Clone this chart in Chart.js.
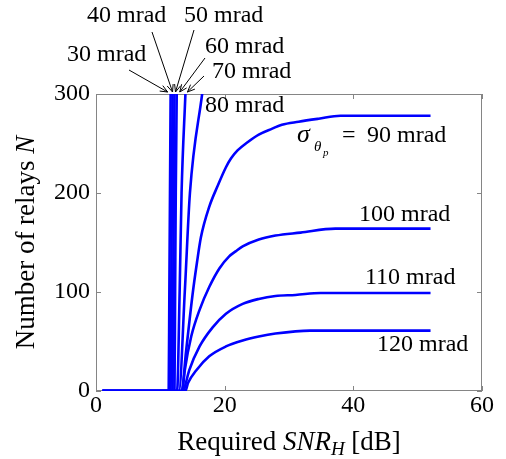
<!DOCTYPE html>
<html>
<head>
<meta charset="utf-8">
<script src="https://cdn.jsdelivr.net/npm/chart.js@4.4.1/dist/chart.umd.min.js"></script>
<style>
  body { margin: 0; background: #ffffff; }
  canvas { display: block; }
</style>
</head>
<body>
<canvas id="myChart" width="506" height="459"></canvas>
<script>
// Required SNR_H [dB] (x) and number of relays N (y), one pair per sigma_theta_p
var snr30 = [1, 11.3, 11.4, 11.5, 11.6, 11.7];
var n30   = [0, 0, 100, 200, 300, 400];
var snr40 = [1, 11.6, 11.7, 11.8, 11.9, 12.0];
var n40   = [0, 0, 100, 200, 300, 400];
var snr50 = [1, 11.9, 12.0, 12.1, 12.2, 12.3];
var n50   = [0, 0, 100, 200, 300, 400];
var snr60 = [1, 12.2, 12.3, 12.4, 12.55, 12.7];
var n60   = [0, 0, 100, 200, 300, 400];
var snr70 = [1, 12.6, 13.0, 13.3, 13.9, 14.5];
var n70   = [0, 0, 100, 200, 300, 400];
var snr80 = [1, 12.9, 13.8, 14.6, 16.5, 18.5];
var n80   = [0, 0, 100, 200, 300, 400];
var snr90 = [1, 13.3, 14.0, 15.0, 15.7, 16.3, 17.6, 18.9, 20.2, 21.0, 22.0, 23.5, 25.3, 27.4, 28.9, 31.5, 34.6, 38, 52];
var n90   = [0, 0, 40, 97, 130, 155, 186, 207, 226, 235, 243, 251, 259, 265, 269, 272, 275, 278, 278];
var snr100 = [1, 13.4, 13.8, 14.8, 16.1, 17.6, 19.2, 20.7, 21.7, 22.8, 25.3, 27.9, 31.8, 37.2, 52];
var n100   = [0, 0, 21, 55, 82, 105, 124, 136, 141, 146, 153, 157, 160, 164, 164];
var snr110 = [1, 13.6, 13.8, 14.5, 16.1, 18.1, 20.2, 22.8, 25.3, 27.9, 31, 34.9, 52];
var n110   = [0, 0, 4, 21, 45, 64, 78, 88, 93, 96, 97, 99, 99];
var snr120 = [1, 13.9, 14.3, 15.6, 17.6, 20.2, 22.8, 25.3, 27.9, 33.3, 52];
var n120   = [0, 0, 8, 21, 35, 45, 51, 55, 58, 61, 61];

var seriesNames = ['30 mrad', '40 mrad', '50 mrad', '60 mrad', '70 mrad', '80 mrad', '90 mrad', '100 mrad', '110 mrad', '120 mrad'];
var seriesX = [snr30, snr40, snr50, snr60, snr70, snr80, snr90, snr100, snr110, snr120];
var seriesY = [n30, n40, n50, n60, n70, n80, n90, n100, n110, n120];

var xTicks = [0, 20, 40, 60];
var yTicks = [0, 100, 200, 300];

var SERIF = '"Liberation Serif", "Times New Roman", serif';

var datasets = [];
for (var i = 0; i < seriesNames.length; i++) {
  var pts = [];
  for (var j = 0; j < seriesX[i].length; j++) {
    pts.push({ x: seriesX[i][j], y: seriesY[i][j] });
  }
  datasets.push({
    label: seriesNames[i],
    data: pts,
    borderColor: '#0000ff',
    borderWidth: 2.6,
    pointRadius: 0,
    fill: false,
    cubicInterpolationMode: 'monotone'
  });
}

// labels drawn in the figure (pixel layout), arrows point to the top of the steep curves
var arrowLabels = [
  { s: 0, text: '30 mrad', tx: 67,  ty: 55, ax: 129, ay: 70, dx: -3 },
  { s: 1, text: '40 mrad', tx: 87,  ty: 16, ax: 152, ay: 32, dx: 0 },
  { s: 2, text: '50 mrad', tx: 184, ty: 16, ax: 194, ay: 30, dx: 1 },
  { s: 3, text: '60 mrad', tx: 205, ty: 47, ax: 205, ay: 58, dx: 3 },
  { s: 4, text: '70 mrad', tx: 212, ty: 72, ax: 204, ay: 76, dx: 2 }
];
var plainLabels = [
  { text: '80 mrad',  tx: 205, ty: 106 },
  { text: '100 mrad', tx: 359, ty: 215 },
  { text: '110 mrad', tx: 365, ty: 278 },
  { text: '120 mrad', tx: 377, ty: 345 }
];

function drawArrow(ctx, x0, y0, x1, y1) {
  var ang = Math.atan2(y1 - y0, x1 - x0), h = 8;
  ctx.beginPath();
  ctx.moveTo(x0, y0);
  ctx.lineTo(x1, y1);
  ctx.moveTo(x1 - h * Math.cos(ang - 0.4), y1 - h * Math.sin(ang - 0.4));
  ctx.lineTo(x1, y1);
  ctx.lineTo(x1 - h * Math.cos(ang + 0.4), y1 - h * Math.sin(ang + 0.4));
  ctx.stroke();
}

// draws a run of [text, font, dy] pieces starting at x
function drawRun(ctx, parts, x, y) {
  for (var k = 0; k < parts.length; k++) {
    ctx.font = parts[k][1];
    ctx.fillText(parts[k][0], x, y + (parts[k][2] || 0));
    x += ctx.measureText(parts[k][0]).width;
  }
}
function runWidth(ctx, parts) {
  var w = 0;
  for (var k = 0; k < parts.length; k++) {
    ctx.font = parts[k][1];
    w += ctx.measureText(parts[k][0]).width;
  }
  return w;
}

var matlabBox = {
  id: 'matlabBox',
  beforeDatasetsDraw: function(chart) {
    var ctx = chart.ctx, a = chart.chartArea;
    var xs = chart.scales.x, ys = chart.scales.y;
    ctx.save();
    ctx.strokeStyle = '#858585';
    ctx.lineWidth = 1;
    ctx.strokeRect(a.left + 0.5, a.top + 0.5, a.right - a.left - 1, a.bottom - a.top - 1);
    ctx.beginPath();
    xTicks.forEach(function(v) {
      var px = Math.round(xs.getPixelForValue(v)) + 0.5;
      ctx.moveTo(px, a.bottom); ctx.lineTo(px, a.bottom - 5);
      ctx.moveTo(px, a.top); ctx.lineTo(px, a.top + 5);
    });
    yTicks.forEach(function(v) {
      var py = Math.round(ys.getPixelForValue(v)) + 0.5;
      ctx.moveTo(a.left, py); ctx.lineTo(a.left + 5, py);
      ctx.moveTo(a.right, py); ctx.lineTo(a.right - 5, py);
    });
    ctx.stroke();
    ctx.restore();
  },
  afterDraw: function(chart) {
    var ctx = chart.ctx, a = chart.chartArea;
    var xs = chart.scales.x;
    ctx.save();
    ctx.fillStyle = '#000000';
    ctx.strokeStyle = '#000000';
    ctx.lineWidth = 1;
    ctx.textBaseline = 'middle';
    ctx.textAlign = 'left';
    ctx.font = '24px ' + SERIF;

    arrowLabels.forEach(function(l) {
      ctx.fillText(l.text, l.tx, l.ty);
      var top = seriesX[l.s][seriesY[l.s].indexOf(300)];
      drawArrow(ctx, l.ax, l.ay, xs.getPixelForValue(top) + l.dx, a.top - 2);
    });
    plainLabels.forEach(function(l) {
      ctx.fillText(l.text, l.tx, l.ty);
    });

    // sigma_theta_p = 90 mrad
    ctx.textBaseline = 'alphabetic';
    ctx.font = 'italic 26px ' + SERIF;
    ctx.fillText('\u03c3', 297, 142);
    ctx.font = 'italic 15px ' + SERIF;
    ctx.fillText('\u03b8', 314, 151);
    ctx.font = 'italic 11px ' + SERIF;
    ctx.fillText('p', 323, 156);
    ctx.font = '24px ' + SERIF;
    ctx.fillText('=', 342, 142);
    ctx.fillText('90 mrad', 367, 142);

    // x axis title
    var xParts = [
      ['Required ', '27px ' + SERIF, 0],
      ['SNR', 'italic 27px ' + SERIF, 0],
      ['H', 'italic 19px ' + SERIF, 5],
      [' [dB]', '27px ' + SERIF, 0]
    ];
    var cx = (a.left + a.right) / 2;
    drawRun(ctx, xParts, cx - runWidth(ctx, xParts) / 2, 450);

    // y axis title
    var yParts = [
      ['Number of relays ', '27px ' + SERIF, 0],
      ['N', 'italic 27px ' + SERIF, 0]
    ];
    ctx.translate(34, (a.top + a.bottom) / 2);
    ctx.rotate(-Math.PI / 2);
    drawRun(ctx, yParts, -runWidth(ctx, yParts) / 2, 0);
    ctx.restore();
  }
};

var chart = new Chart(document.getElementById('myChart'), {
  type: 'line',
  data: { datasets: datasets },
  options: {
    responsive: false,
    animation: false,
    events: [],
    layout: {
      padding: { top: 94, right: 24, left: 0, bottom: 0 }
    },
    scales: {
      x: {
        type: 'linear',
        min: 0,
        max: 60,
        afterFit: function(scale) { scale.height = 68; },
        afterBuildTicks: function(scale) {
          scale.ticks = xTicks.map(function(v) { return { value: v }; });
        },
        grid: { display: false, drawTicks: false },
        border: { display: false },
        ticks: {
          color: '#000000',
          padding: 0,
          maxRotation: 0,
          font: { family: SERIF, size: 24 }
        }
      },
      y: {
        type: 'linear',
        min: 0,
        max: 300,
        afterFit: function(scale) { scale.width = 96; },
        afterBuildTicks: function(scale) {
          scale.ticks = yTicks.map(function(v) { return { value: v }; });
        },
        grid: { display: false, drawTicks: false },
        border: { display: false },
        ticks: {
          color: '#000000',
          padding: 6,
          font: { family: SERIF, size: 24 }
        }
      }
    },
    plugins: {
      legend: { display: false },
      tooltip: { enabled: false }
    }
  },
  plugins: [matlabBox]
});
</script>
</body>
</html>
